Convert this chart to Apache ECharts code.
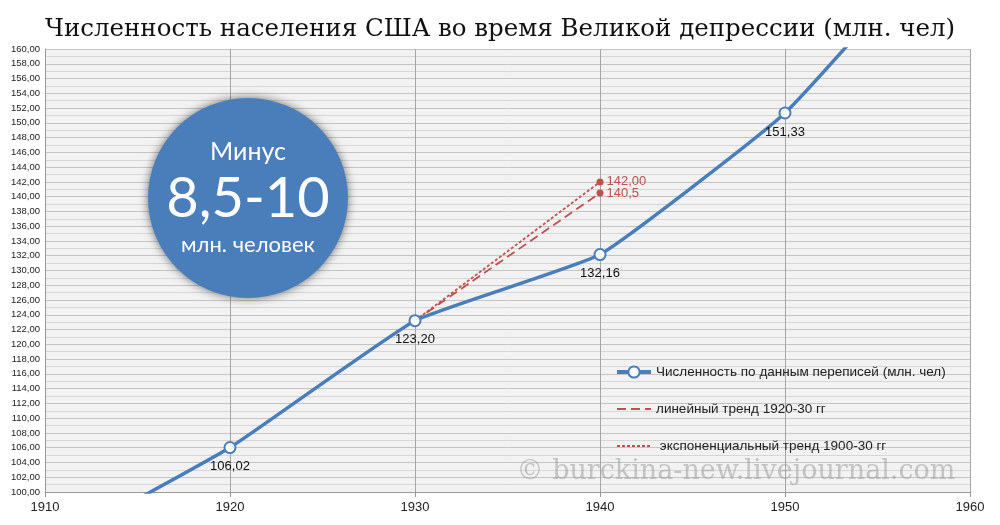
<!DOCTYPE html>
<html><head><meta charset="utf-8">
<script src="https://cdn.jsdelivr.net/npm/echarts@6/dist/echarts.min.js"></script>
<style>html,body{margin:0;padding:0;background:#fff}#c{width:1000px;height:525px}</style>
</head><body><div id="c"></div>
<script>
var titleText = 'Численность населения США во время Великой депрессии (млн. чел)';
var years = [1910, 1920, 1930, 1940, 1950, 1960];
var population = [92.23, 106.02, 123.20, 132.16, 151.33, 179.32];
var linearTrend = [[1930, 123.2], [1940, 140.5]];
var expTrend = [[1930, 123.2], [1940, 142.0]];
var seriesNames = ['Численность по данным переписей (млн. чел)', 'линейный тренд 1920-30 гг', ' экспоненциальный тренд 1900-30 гг'];
var trendLabels = ['140,5', '142,00'];
var circleTexts = ['Минус', '8,5-10', 'млн. человек'];
var watermark = '© burckina-new.livejournal.com';
var xMin = 1910, xMax = 1960, yMin = 100, yMax = 160;

var blue = '#4a7ebb', red = '#c0504d';
function fmt(v){ return v.toFixed(2).replace('.', ','); }

var popData = years.map(function(y, i){
  var inside = population[i] >= yMin && population[i] <= yMax;
  return { value: [y, population[i]], symbol: inside ? 'emptyCircle' : 'none', label: { show: inside } };
});
function trendData(arr, lbl){
  return arr.map(function(p, i){
    return { value: p, symbol: i === 0 ? 'none' : 'circle', label: { show: i > 0, formatter: lbl } };
  });
}

var chart = echarts.init(document.getElementById('c'));
chart.setOption({
  animation: false,
  title: { text: titleText, left: 'center', top: 12,
    textStyle: { fontFamily: 'DejaVu Serif', fontSize: 24.5, fontWeight: 'normal', color: '#111' } },
  grid: { left: 45, right: 30, top: 49, bottom: 33, show: true, backgroundColor: '#f2f2f2', borderWidth: 0 },
  xAxis: { type: 'value', min: xMin, max: xMax, interval: 10,
    axisLine: { show: true, lineStyle: { color: '#999' } },
    axisTick: { show: true, length: 5, lineStyle: { color: '#999' } },
    axisLabel: { color: '#222', fontSize: 13, fontFamily: 'Liberation Sans', margin: 9, formatter: function(v){ return String(v); } },
    splitLine: { show: true, lineStyle: { color: '#a6a6a6' } } },
  yAxis: { type: 'value', min: yMin, max: yMax, interval: 2,
    axisLine: { show: true, lineStyle: { color: '#999' } },
    axisTick: { show: false },
    axisLabel: { color: '#222', fontSize: 9.5, fontFamily: 'Liberation Sans', margin: 5, formatter: fmt },
    splitLine: { show: true, lineStyle: { color: '#c4c4c4' } },
    minorTick: { show: false, splitNumber: 2 },
    minorSplitLine: { show: true, lineStyle: { color: '#d6d6d6' } } },
  legend: { orient: 'vertical', left: 610, top: 360, itemGap: 23, itemWidth: 34, itemHeight: 14,
    textStyle: { fontSize: 13.5, color: '#222', fontFamily: 'Liberation Sans' },
    data: [
      { name: seriesNames[0], lineStyle: { width: 4 } },
      { name: seriesNames[1], itemStyle: { opacity: 0 } },
      { name: seriesNames[2], itemStyle: { opacity: 0 } }
    ] },
  series: [
    { name: seriesNames[0], type: 'line', data: popData, symbol: 'emptyCircle', smooth: 0.12, clip: true,
      lineStyle: { color: blue, width: 3.5 }, itemStyle: { color: blue, borderWidth: 2.5 },
      color: blue, symbolSize: 11, z: 5,
      label: { show: true, position: 'bottom', distance: 6, color: '#111', fontSize: 13, fontFamily: 'Liberation Sans',
        formatter: function(p){ return fmt(p.value[1]); } } },
    { name: seriesNames[1], type: 'line', data: trendData(linearTrend, trendLabels[0]), color: red,
      lineStyle: { color: red, width: 1.8, type: [9, 5] }, itemStyle: { color: red }, symbolSize: 7, z: 3,
      label: { position: 'right', distance: 3, color: red, fontSize: 13, fontFamily: 'Liberation Sans' } },
    { name: seriesNames[2], type: 'line', data: trendData(expTrend, trendLabels[1]), color: red,
      lineStyle: { color: red, width: 1.8, type: [3, 2] }, itemStyle: { color: red }, symbolSize: 7, z: 3,
      label: { position: 'right', distance: 3, color: red, fontSize: 13, fontFamily: 'Liberation Sans' } }
  ],
  graphic: [
    { type: 'circle', shape: { cx: 248, cy: 198, r: 100 }, z: 10,
      style: { fill: '#4a7ebb', shadowBlur: 10, shadowColor: 'rgba(0,0,0,0.55)' } },
    { type: 'text', x: 248, y: 152, z: 11, style: { text: circleTexts[0], fill: '#fff', fontSize: 25, fontFamily: 'Lato', textAlign: 'center', textVerticalAlign: 'middle' } },
    { type: 'text', x: 248, y: 199, z: 11, style: { text: circleTexts[1], fill: '#fff', fontSize: 56, fontFamily: 'Lato', textAlign: 'center', textVerticalAlign: 'middle' } },
    { type: 'text', x: 248, y: 245, z: 11, style: { text: circleTexts[2], fill: '#fff', fontSize: 22, fontFamily: 'Lato', textAlign: 'center', textVerticalAlign: 'middle' } },
    { type: 'text', x: 736, y: 472, z: 1, style: { text: watermark, fill: 'rgba(150,150,150,0.5)', fontSize: 27, fontFamily: 'DejaVu Serif', textAlign: 'center', textVerticalAlign: 'middle' } }
  ]
});
</script></body></html>
